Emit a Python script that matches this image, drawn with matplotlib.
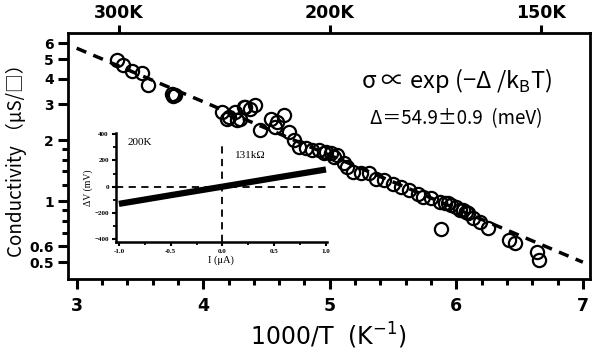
import matplotlib
matplotlib.use("Agg")
import matplotlib.pyplot as plt
import numpy as np
from matplotlib.ticker import FixedLocator, NullFormatter

plt.rcParams['font.family'] = ['DejaVu Sans']

# conductivity data: 1000/T (K^-1) and sigma (uS/sq)
inv_t = [3.315, 3.368, 3.434, 3.513, 3.566, 3.755, 3.765, 3.78,
         4.148, 4.188, 4.20, 4.254, 4.267, 4.294, 4.32, 4.333, 4.373, 4.413,
         4.452, 4.532, 4.571, 4.585, 4.637, 4.677, 4.717, 4.757, 4.81,
         4.862, 4.915, 4.955, 4.968, 5.008, 5.03, 5.06, 5.11, 5.14, 5.18,
         5.246, 5.31, 5.365, 5.43, 5.5, 5.563, 5.63, 5.696, 5.735, 5.80,
         5.868, 5.88, 5.907, 5.934, 5.96, 6.0, 6.026, 6.05, 6.08, 6.09,
         6.132, 6.185, 6.25, 6.42, 6.46, 6.635, 6.65]
sigma = [4.95, 4.68, 4.38, 4.26, 3.73, 3.38, 3.30, 3.34,
         2.75, 2.55, 2.60, 2.75, 2.51, 2.55, 2.91, 2.91, 2.86, 2.97,
         2.24, 2.55, 2.32, 2.46, 2.65, 2.19, 2.00, 1.85, 1.82,
         1.78, 1.78, 1.72, 1.75, 1.72, 1.65, 1.69, 1.54, 1.48, 1.39,
         1.37, 1.37, 1.29, 1.27, 1.22, 1.18, 1.13, 1.09, 1.05, 1.03,
         0.99, 0.73, 0.974, 0.974, 0.956, 0.937, 0.903, 0.90, 0.886, 0.87,
         0.822, 0.79, 0.734, 0.643, 0.619, 0.563, 0.512]

# activation fit line endpoints
fit_x = [3.0, 7.0]
fit_y = [5.67, 0.50]

# inset I-V data at 200K
iv_i = [-1.0, -0.5, 0.0, 0.5, 1.0]
iv_v = [-131, -65, 0, 66, 131]

top_temps = [300, 200, 150]

cjk = ['Noto Sans CJK JP', 'DejaVu Sans']

fig = plt.figure(figsize=(6, 3.64), dpi=100)
ax = fig.add_axes([0.113, 0.2335, 0.87, 0.6755])

ax.set_yscale('log')
ax.plot(fit_x, fit_y, ls=(0, (3, 2.2)), color='black', lw=2.5, zorder=2)
ax.plot(inv_t, sigma, 'o', mfc='none', mec='black', ms=9.5, mew=1.6, zorder=3)
ax.set_xlim(2.93, 7.055)
ax.set_ylim(0.413, 6.73)

ax.yaxis.set_major_locator(FixedLocator([0.5, 0.6, 1, 2, 3, 4, 5, 6]))
ax.yaxis.set_minor_locator(FixedLocator([0.7, 0.8, 0.9, 1.2, 1.4, 1.6, 1.8]))
ax.yaxis.set_minor_formatter(NullFormatter())
ax.set_yticklabels(['0.5', '0.6', '1', '2', '3', '4', '5', '6'])
ax.set_xticks([3, 4, 5, 6, 7])
ax.set_xticks(np.arange(3, 7.01, 0.2), minor=True)

for s in ax.spines.values():
    s.set_linewidth(2)
ax.tick_params(which='major', direction='out', length=7, width=2.2,
               labelsize=12.5, pad=6)
ax.tick_params(which='minor', direction='out', length=4.5, width=2.2)
ax.tick_params(axis='y', which='major', labelsize=10, pad=3)
for lab in ax.get_xticklabels() + ax.get_yticklabels():
    lab.set_fontweight('bold')

ax.set_xlabel('1000/T  (K$^{\\mathregular{-1}}$)', fontsize=17, labelpad=4)
ax.set_ylabel('Conductivity （μS/□）', fontsize=13.5, family=cjk, labelpad=2)

top = ax.secondary_xaxis('top', functions=(lambda x: x, lambda x: x))
top.set_xticks([1000.0 / t for t in top_temps])
top.set_xticklabels(['%dK' % t for t in top_temps], fontsize=12.5,
                    fontweight='bold')
top.tick_params(direction='out', length=6, width=2.2, pad=2)
top.xaxis.set_minor_locator(FixedLocator([]))

ax.text(0.745, 0.809, 'σ ∝ exp (−Δ /k$_{\\mathregular{B}}$T)', transform=ax.transAxes,
        ha='center', va='center', fontsize=17, family=cjk)
ax.text(0.745, 0.654, 'Δ＝54.9±0.9  (meV)', transform=ax.transAxes,
        ha='center', va='center', fontsize=13.5, family=cjk)

# inset
ins = fig.add_axes([0.193, 0.335, 0.352, 0.30])
ins.patch.set_alpha(0)
ins.plot(iv_i, iv_v, color='black', lw=4.5, solid_capstyle='butt')
ins.axhline(0, color='black', ls=(0, (4, 3)), lw=1.3)
ins.plot([0, 0], [-425, 335], color='black', ls=(0, (4, 3)), lw=1.3)
ins.set_xlim(-1.03, 1.01)
ins.set_ylim(-422, 410)
ins.spines['top'].set_visible(False)
ins.spines['right'].set_visible(False)
ins.spines['left'].set_linewidth(1.8)
ins.spines['bottom'].set_linewidth(1.8)
ins.set_xticks([-1.0, -0.5, 0.0, 0.5, 1.0])
ins.set_xticklabels(['-1.0', '-0.5', '0.0', '0.5', '1.0'])
ins.set_xticks(np.arange(-1.0, 1.01, 0.25), minor=True)
ins.set_yticks([-400, -200, 0, 200, 400])
ins.set_yticks(np.arange(-400, 401, 100), minor=True)
ins.tick_params(which='major', direction='out', length=3, width=1.5,
                labelsize=5, pad=2)
ins.tick_params(which='minor', direction='out', length=2, width=1.3)
for lab in ins.get_xticklabels() + ins.get_yticklabels():
    lab.set_family('Liberation Serif')
    lab.set_fontweight('bold')
ins.set_xlabel('I (μA)', fontsize=7.5, family='Liberation Serif', labelpad=1)
ins.set_ylabel('ΔV (mV)', fontsize=7, family='Liberation Serif', labelpad=1)
ins.text(-0.92, 340, '200K', fontsize=8, family='Liberation Serif',
         va='center', ha='left')
ins.text(0.12, 240, '131kΩ', fontsize=8, family='Liberation Serif',
         va='center', ha='left')

fig.savefig('out.png', dpi=100)
